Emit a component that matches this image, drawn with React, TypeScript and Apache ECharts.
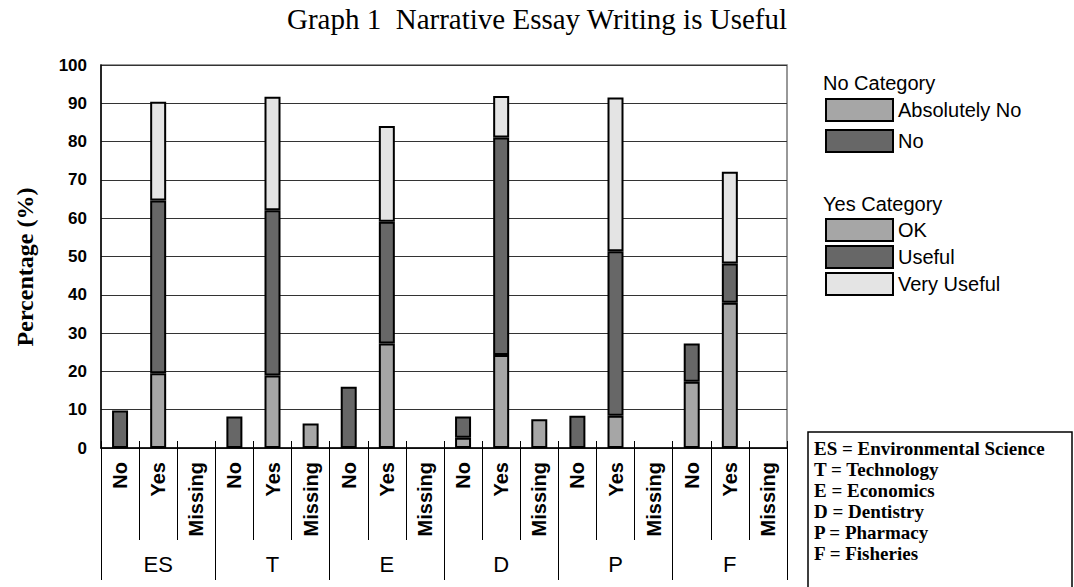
import React, { useEffect, useRef } from "react";
import * as echarts from "echarts";

const groups = ["ES", "T", "E", "D", "P", "F"];
const subCats = ["No", "Yes", "Missing"];
const categories = groups.flatMap(() => subCats);

// No category (on "No" bars)
const absolutelyNo = [null, null, null, null, null, null, null, null, null, 2.7, null, null, null, null, null, 17.3, null, null];
const noVals = [9.8, null, null, 8.2, null, null, 16.0, null, null, 5.5, null, null, 8.4, null, null, 10.0, null, null];
// Yes category (on "Yes" bars)
const okVals = [null, 19.5, null, null, 18.9, null, null, 27.3, null, null, 24.3, null, null, 8.4, null, null, 37.9, null];
const usefulVals = [null, 45.1, null, null, 43.2, null, null, 31.8, null, null, 56.8, null, null, 43.0, null, null, 10.3, null];
const veryUsefulVals = [null, 25.8, null, null, 29.6, null, null, 25.0, null, null, 10.8, null, null, 40.1, null, null, 23.9, null];
// Missing
const missingVals = [null, null, null, null, null, 6.4, null, null, null, null, null, 7.5, null, null, null, null, null, null];

const yTicks = { min: 0, max: 100, interval: 10 };
const yTitle = "Percentage (%)";
const abbreviations = [
  "ES = Environmental Science",
  "T = Technology",
  "E = Economics",
  "D = Dentistry",
  "P = Pharmacy",
  "F = Fisheries",
];

const MID = "#a6a6a6";
const DARK = "#676767";
const LIGHT = "#e4e4e4";
const SANS = "Liberation Sans, Arial, sans-serif";
const SERIF = "Liberation Serif, Times New Roman, serif";

export default function App() {
  const ref = useRef<HTMLDivElement>(null);
  useEffect(() => {
    if (!ref.current) return;
    const chart = echarts.init(ref.current, undefined, { renderer: "svg" });
    const bar = (name: string, data: (number | null)[], color: string) => ({
      name,
      type: "bar",
      stack: "all",
      data,
      barWidth: 16,
      itemStyle: { color, borderColor: "#000", borderWidth: 2 },
    });
    const legendText = { fontFamily: SANS, fontSize: 20, color: "#000" };
    chart.setOption({
      animation: false,
      backgroundColor: "#fff",
      title: {
        text: "Graph 1  Narrative Essay Writing is Useful",
        left: "center",
        top: 4,
        padding: 0,
        textStyle: { fontFamily: SERIF, fontSize: 29, fontWeight: "normal", color: "#000" },
      },
      grid: {
        left: 101,
        right: 287,
        top: 65,
        bottom: 139,
        show: true,
        borderColor: "#777",
        borderWidth: 1.5,
        backgroundColor: "transparent",
      },
      legend: [
        {
          data: ["Absolutely No", "No"],
          orient: "vertical",
          left: 825,
          top: 98,
          padding: 0,
          itemWidth: 67,
          itemHeight: 22,
          itemGap: 7,
          icon: "rect",
          textStyle: legendText,
          selectedMode: false,
        },
        {
          data: ["OK", "Useful", "Very Useful"],
          orient: "vertical",
          left: 825,
          top: 218,
          padding: 0,
          itemWidth: 67,
          itemHeight: 22,
          itemGap: 3,
          icon: "rect",
          textStyle: legendText,
          selectedMode: false,
        },
      ],
      xAxis: [
        {
          type: "category",
          data: categories,
          position: "bottom",
          axisLine: { show: true, lineStyle: { color: "#000", width: 1.5 } },
          axisTick: { show: true, interval: 0, length: 92, lineStyle: { color: "#000", width: 1 } },
          axisLabel: {
            interval: 0,
            rotate: 90,
            margin: 14,
            fontFamily: SANS,
            fontWeight: "bold",
            fontSize: 20,
            color: "#000",
          },
        },
        {
          type: "category",
          data: groups,
          position: "bottom",
          axisLine: { show: false },
          axisTick: { show: true, interval: 0, length: 132, lineStyle: { color: "#000", width: 1 } },
          axisLabel: {
            interval: 0,
            margin: 105,
            fontFamily: SANS,
            fontSize: 22,
            color: "#000",
          },
        },
        {
          type: "category",
          data: categories,
          position: "bottom",
          axisLine: { show: false },
          axisTick: { show: true, inside: true, interval: 0, length: 7, lineStyle: { color: "#000", width: 1 } },
          axisLabel: { show: false },
        },
      ],
      yAxis: {
        type: "value",
        min: yTicks.min,
        max: yTicks.max,
        interval: yTicks.interval,
        axisLine: { show: true, lineStyle: { color: "#000", width: 1.5 } },
        axisTick: { show: false },
        axisLabel: { fontFamily: SANS, fontWeight: "bold", fontSize: 17, color: "#000", margin: 14 },
        splitLine: { show: true, lineStyle: { color: "#333", width: 1.2 } },
      },
      series: [
        bar("Absolutely No", absolutelyNo, MID),
        bar("No", noVals, DARK),
        bar("OK", okVals, MID),
        bar("Useful", usefulVals, DARK),
        bar("Very Useful", veryUsefulVals, LIGHT),
        bar("Missing", missingVals, MID),
      ],
      graphic: [
        {
          type: "text",
          x: 25,
          y: 267,
          rotation: Math.PI / 2,
          style: {
            text: yTitle,
            fontFamily: SERIF,
            fontWeight: "bold",
            fontSize: 24,
            fill: "#000",
            align: "center",
            verticalAlign: "middle",
          },
        },
        {
          type: "text",
          x: 823,
          y: 73,
          style: { text: "No Category", fontFamily: SANS, fontSize: 20, fill: "#000" },
        },
        {
          type: "text",
          x: 823,
          y: 194,
          style: { text: "Yes Category", fontFamily: SANS, fontSize: 20, fill: "#000" },
        },
        {
          type: "rect",
          shape: { x: 808, y: 432, width: 264, height: 160 },
          style: { fill: "#fff", stroke: "#000", lineWidth: 1.5 },
        },
        {
          type: "text",
          x: 814,
          y: 438,
          style: {
            text: abbreviations.join("\n"),
            fontFamily: SERIF,
            fontWeight: "bold",
            fontSize: 19,
            lineHeight: 21,
            fill: "#000",
          },
        },
      ],
    });
    return () => chart.dispose();
  }, []);
  return <div ref={ref} style={{ width: 1074, height: 587, position: "absolute", left: 0, top: 0 }} />;
}
